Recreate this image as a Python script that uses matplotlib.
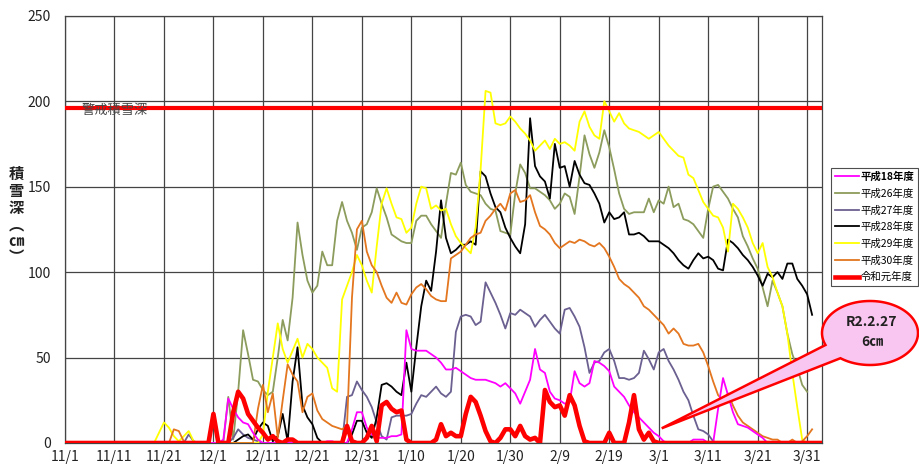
import numpy as np
import matplotlib
matplotlib.use("Agg")
import matplotlib.pyplot as plt
from matplotlib.patches import Polygon

plt.rcParams['font.family'] = ['Noto Sans CJK JP', 'DejaVu Sans']

# x axis: day index from 11/1 (ticks every 10 days)
tick_labels = ['11/1', '11/11', '11/21', '12/1', '12/11', '12/21', '12/31',
               '1/10', '1/20', '1/30', '2/9', '2/19', '3/1', '3/11', '3/21', '3/31']
alarm_depth = 196

# 令和元年度 (thick red)
r01 = ([0] * 30 +
       [17, 0, 0, 0, 18, 30, 26, 17, 13, 9, 6, 2, 4, 1, 0, 2, 2, 0] +
       [0] * 9 +
       [10, 1, 0, 0, 3, 10, 1, 22, 24, 20, 18, 19, 2, 0] +
       [0] * 4 +
       [2, 11, 4, 6, 4, 4, 17, 27, 24, 16, 7, 1, 0] +
       [3, 8, 8, 4, 10, 4, 2, 3, 0, 31, 24, 21, 22, 16, 28, 22, 10, 1] +
       [0] * 4 +
       [6, 0, 0, 0, 12, 28, 8, 2, 6, 1] +
       [0] * 34)

# 平成18年度
h18 = ([0] * 32 +
       [2, 26, 20, 15, 12, 11, 6, 2, 0] +
       [0] * 12 +
       [1, 1, 0, 0, 0] +
       [8, 18, 18, 9, 5, 3, 3, 3, 4, 4, 5] +
       [66, 55, 54, 54, 54, 52, 50, 47, 43, 43, 44, 42, 40, 38, 37, 37, 37, 36,
        35, 33, 35, 32, 29, 23, 30, 37, 55, 43, 41, 30, 26, 25, 23, 24, 42, 35,
        33, 35, 48, 47, 45, 42, 33, 30, 27, 22, 18, 15, 12, 9, 6, 4, 1] +
       [0] * 5 +
       [2, 2, 2, 0, 0, 20, 38, 28, 18, 11, 10, 9, 7, 5, 3] +
       [0] * 10)

# 平成26年度
h26 = ([0] * 32 +
       [0, 27, 2, 30, 66, 52, 37, 36, 31, 28, 30, 50, 72, 60, 85, 129, 110, 95,
        88, 92, 112, 104, 104, 130, 141, 130, 123, 113, 126, 128, 135, 149, 140,
        132, 122, 120, 118, 117, 117, 130, 133, 133, 128, 124, 120, 140, 158,
        157, 164, 151, 147, 146, 145, 140, 137, 136, 124, 123, 122, 146, 163,
        158, 149, 149, 147, 145, 142, 137, 140, 146, 144, 134, 156, 180, 169,
        161, 170, 183, 173, 160, 146, 137, 134, 135, 135, 135, 143, 135, 142,
        140, 150, 138, 140, 131, 130, 128, 124, 120, 137, 150, 151, 147, 143,
        137, 132, 121, 115, 108, 102, 91, 80, 95, 88, 80, 64, 52, 44, 34, 30])

# 平成27年度
h27 = ([0] * 25 +
       [5, 1, 0, 0, 0, 0, 0, 0, 0, 3, 8, 5, 3, 2, 1] +
       [0] * 16 +
       [0, 27, 28, 36, 31, 27, 21, 12, 4, 2, 15, 16, 16, 16, 17, 23, 28, 27, 30,
        33, 29, 27, 30, 65, 74, 75, 74, 69, 71, 94, 88, 82, 75, 67, 76, 75, 78,
        76, 74, 68, 72, 75, 71, 67, 64, 78, 79, 74, 68, 56, 41, 47, 48, 53, 55,
        48, 38, 38, 37, 38, 41, 54, 49, 43, 53, 55, 48, 43, 37, 30, 25, 16, 8,
        7, 5, 1] +
       [0] * 19)

# 平成28年度
h28 = ([0] * 35 +
       [2, 4, 5, 2, 8, 12, 10, 1, 4, 17, 1, 36, 56, 22, 15, 11, 3] +
       [0] * 6 +
       [5, 13, 13, 6, 3, 15, 34, 35, 33, 30, 28, 47, 30, 56, 80, 95, 89, 112,
        142, 120, 111, 113, 116, 116, 118, 116, 159, 156, 146, 138, 135, 126,
        120, 115, 111, 128, 190, 162, 156, 153, 143, 175, 161, 162, 150, 165,
        157, 152, 151, 146, 140, 129, 135, 131, 132, 135, 122, 122, 123, 121,
        118, 118, 118, 116, 114, 111, 107, 104, 102, 107, 111, 108, 109, 107,
        102, 101, 119, 117, 114, 110, 107, 103, 98, 92, 99, 97, 100, 96, 105,
        105, 96, 92, 87, 75])

# 平成29年度
h29 = ([0] * 19 +
       [6, 12, 9, 4, 1, 4, 7, 1] +
       [0] * 13 +
       [5, 30, 50, 70, 55, 47, 54, 61, 50, 58, 55, 50, 47, 44, 32, 30, 84, 92,
        100, 110, 104, 95, 88, 115, 140, 149, 140, 132, 131, 123, 126, 140, 150,
        149, 137, 139, 136, 137, 128, 121, 117, 114, 111, 126, 160, 206, 205,
        187, 186, 187, 191, 188, 184, 181, 177, 171, 174, 177, 172, 178, 175,
        176, 174, 171, 188, 194, 185, 180, 178, 200, 194, 188, 193, 187, 184,
        183, 182, 180, 178, 180, 182, 178, 174, 171, 168, 167, 157, 155, 148,
        141, 137, 133, 132, 126, 112, 140, 137, 132, 126, 117, 111, 117, 103,
        97, 88, 80, 64, 41, 21, 2, 0])

# 平成30年度
h30 = ([0] * 22 +
       [8, 7, 1] +
       [0] * 14 +
       [20, 34, 18, 29, 3, 25, 46, 40, 36, 18, 27, 29, 19, 14, 12, 10, 9, 8, 10,
        85, 125, 130, 112, 104, 100, 92, 85, 82, 88, 82, 81, 87, 91, 93, 90, 86,
        84, 83, 83, 108, 110, 112, 116, 120, 122, 123, 130, 133, 137, 140, 136,
        146, 148, 141, 142, 145, 135, 127, 125, 122, 117, 114, 116, 118, 117,
        119, 118, 116, 115, 117, 114, 109, 103, 96, 93, 91, 88, 85, 80, 78, 75,
        72, 69, 64, 67, 64, 58, 57, 57, 58, 53, 45, 36, 28, 25, 29, 22, 16, 12,
        10, 8, 6, 4, 3, 2, 2, 0, 0, 2, 0, 1, 4, 8])

assert len(r01) == 154 and len(h18) == 152 and len(h26) == 151
assert len(h27) == 151 and len(h28) == 152 and len(h29) == 151 and len(h30) == 152

series = [
    ('平成18年度', h18, '#FF00FF', 1.3),
    ('平成26年度', h26, '#8C9C5C', 1.3),
    ('平成27年度', h27, '#6B6090', 1.3),
    ('平成28年度', h28, '#000000', 1.3),
    ('平成29年度', h29, '#FFFF00', 1.3),
    ('平成30年度', h30, '#E3761F', 1.3),
    ('令和元年度', r01, '#FF0000', 3.3),
]

fig = plt.figure(figsize=(9.2, 4.66), dpi=100)
ax = fig.add_axes([65 / 920, 1 - 443 / 466, (822 - 65) / 920, (443 - 15.7) / 466])

draw_order = [1, 2, 3, 4, 5, 0, 6]
lines = {}
for k in draw_order:
    name, vals, col, lw = series[k]
    ln, = ax.plot(np.arange(len(vals)), vals, color=col, lw=lw, label=name,
                  zorder=3 + (1 if k == 6 else 0), solid_joinstyle='round')
    lines[k] = ln
handles = [lines[k] for k in range(len(series))]

ax.axhline(alarm_depth, color='#FF0000', lw=3.0, zorder=5)
ax.text(3.4, alarm_depth - 1.5, '警戒積雪深', fontsize=9.5, color='#444444',
        ha='left', va='center', zorder=6)

ax.set_xlim(0, 153)
ax.set_ylim(0, 250)
ax.set_xticks(np.arange(0, 151, 10))
ax.set_xticklabels(tick_labels)
ax.set_yticks(np.arange(0, 251, 50))
ax.tick_params(length=0, labelsize=10, colors='#222222')
ax.tick_params(axis='x', pad=5)
ax.tick_params(axis='y', pad=10)
ax.grid(True, color='#444444', lw=0.9)
ax.set_axisbelow(True)
for s in ax.spines.values():
    s.set_color('#444444')
    s.set_linewidth(0.9)

fig.text(16 / 920, 1 - 216 / 466, '積\n雪\n深\n︵\n㎝\n︶', ha='center', va='center',
         fontsize=11, fontweight='bold', linespacing=1.05, color='#222222')

leg = fig.legend(handles, [s[0] for s in series], loc='upper left',
                 bbox_to_anchor=(831 / 920, 1 - 168 / 466), fontsize=7.5,
                 frameon=True, fancybox=False, edgecolor='#222222',
                 handlelength=2.3, handletextpad=0.15, labelspacing=0.62,
                 borderpad=0.35, borderaxespad=0)
leg.get_frame().set_linewidth(0.8)
leg.get_texts()[0].set_fontweight('bold')

# callout balloon
ov = fig.add_axes([0, 0, 1, 1], zorder=10)
ov.set_xlim(0, 920)
ov.set_ylim(466, 0)
ov.axis('off')
cx, cy, a, b = 870, 333, 48, 32
th = np.radians(np.linspace(128, -202, 120))
pts = [(661.7, 428.3)] + [(cx + a * np.cos(t), cy + b * np.sin(t)) for t in th]
ov.add_patch(Polygon(pts, closed=True, facecolor='#F8C6F0', edgecolor='#FF0000', lw=1.8))
ov.text(cx + 2, 322, 'R2.2.27', ha='center', va='center', fontsize=10,
        fontweight='bold', color='#222222')
ov.text(cx + 2, 342, '6㎝', ha='center', va='center', fontsize=10,
        fontweight='bold', color='#222222')

fig.savefig('out.png', dpi=100)
